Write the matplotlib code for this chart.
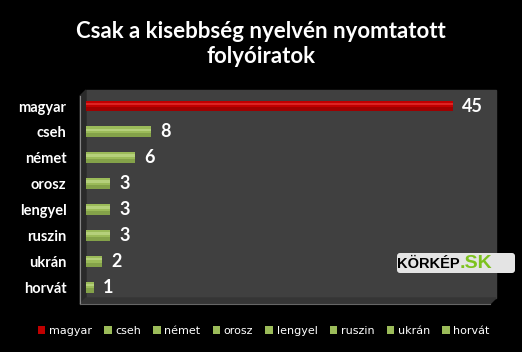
import matplotlib.pyplot as plt
from matplotlib.patches import Polygon, Rectangle, FancyBboxPatch

# data
languages = ['magyar', 'cseh', 'német', 'orosz', 'lengyel', 'ruszin', 'ukrán', 'horvát']
counts = [45, 8, 6, 3, 3, 3, 2, 1]
title = 'Csak a kisebbség nyelvén nyomtatott\nfolyóiratok'

red = '#c00000'
green = '#9bbb59'
colors = [red] + [green] * (len(languages) - 1)
light = ['#ff5050'] + ['#d6eaa6'] * (len(languages) - 1)
dark = ['#800000'] + ['#6f8a3a'] * (len(languages) - 1)

W, H = 522, 352
fig = plt.figure(figsize=(W / 100, H / 100), dpi=100, facecolor='black')

# background axes in pixel coords for the 3D wall / floor
bg = fig.add_axes([0, 0, 1, 1])
bg.set_xlim(0, W)
bg.set_ylim(H, 0)
bg.axis('off')
bg.add_patch(Polygon([(86, 90), (496, 90), (496, 298), (86, 298)], closed=True, color='#404040'))
bg.add_patch(Polygon([(80, 96), (86, 90), (86, 298), (80, 304)], closed=True, color='#2a2a2a'))
bg.add_patch(Polygon([(80, 304), (86, 298), (496, 298), (490, 304)], closed=True, color='#353535'))
bg.plot([80, 80], [96, 304], color='#888888', lw=0.8)
bg.plot([80, 490], [304, 304], color='#666666', lw=0.8)

# title
fig.text(0.5, 1 - 44 / H, title, ha='center', va='center', color='white',
         fontsize=16, fontweight='bold', family='Lato', linespacing=1.2)

ax = fig.add_axes([86 / W, 1 - 298 / H, 408 / W, 208 / H])
ax.set_facecolor('none')
ypos = list(range(len(languages)))
ax.barh(ypos, counts, height=0.42, color=colors, edgecolor='none', zorder=2)
# shading to suggest the cylinder look
ax.barh([y + 0.13 for y in ypos], counts, height=0.16, color=dark, edgecolor='none',
        alpha=0.5, zorder=3)
ax.barh([y - 0.08 for y in ypos], counts, height=0.1, color=light, edgecolor='none',
        alpha=0.45, zorder=3)
ax.set_xlim(0, 50)
ax.set_ylim(7.42, -0.62)
for y, v in zip(ypos, counts):
    ax.text(v + 1.1, y, str(v), va='center', ha='left', color='white',
            fontsize=13, fontweight='bold', family='Lato')
ax.set_yticks(ypos)
ax.set_yticklabels(languages, color='white', fontsize=10.5, fontweight='bold', family='Lato')
ax.tick_params(axis='y', length=0, pad=14)
ax.set_xticks([])
for s in ax.spines.values():
    s.set_visible(False)

# logo
bg.add_patch(FancyBboxPatch((397, 253), 118, 20, boxstyle='round,pad=0,rounding_size=3',
                            facecolor='#e4e4e4', edgecolor='none'))
bg.text(460, 264, 'KÖRKÉP', color='black', fontsize=10.5, fontweight='bold',
        family='Liberation Sans', ha='right', va='center')
bg.text(460, 264, '.SK', color='#7dc21e', fontsize=14, fontweight='bold',
        family='Liberation Sans', ha='left', va='center')

# legend
handles = [Rectangle((0, 0), 1, 1, facecolor=c, edgecolor='none') for c in colors]
leg = fig.legend(handles, languages, loc='center', bbox_to_anchor=(0.505, 1 - 331 / H),
                 ncol=len(languages), frameon=False, fontsize=8, handlelength=0.7,
                 handleheight=0.7, handletextpad=0.3, columnspacing=1.1)
for t in leg.get_texts():
    t.set_color('white')

fig.savefig('out.png', dpi=100, facecolor='black')
